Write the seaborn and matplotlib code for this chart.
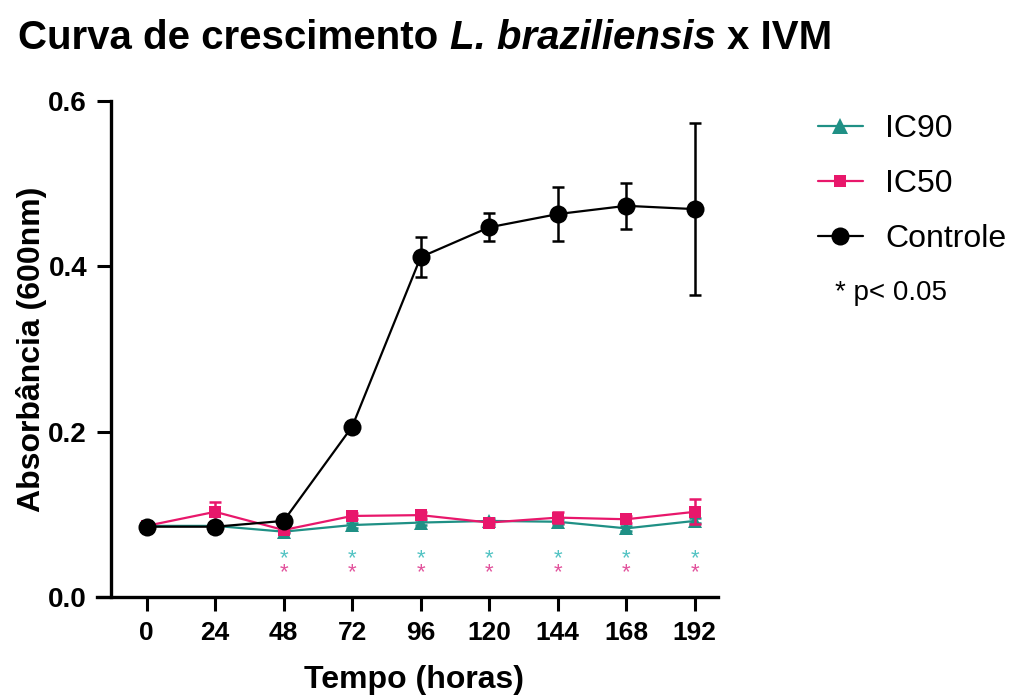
import matplotlib
matplotlib.use("Agg")
import matplotlib.pyplot as plt
import seaborn as sns
import pandas as pd
from matplotlib.lines import Line2D

# ---- data ----
tempo = [0, 24, 48, 72, 96, 120, 144, 168, 192]
controle = [0.085, 0.085, 0.092, 0.206, 0.411, 0.447, 0.463, 0.473, 0.469]
controle_err = [0.003, 0.003, 0.004, 0.004, 0.024, 0.017, 0.033, 0.028, 0.104]
ic50 = [0.086, 0.103, 0.081, 0.098, 0.099, 0.090, 0.096, 0.094, 0.103]
ic50_err = [0.003, 0.012, 0.003, 0.004, 0.004, 0.003, 0.007, 0.004, 0.015]
ic90 = [0.086, 0.086, 0.079, 0.087, 0.090, 0.092, 0.091, 0.083, 0.092]
ic90_err = [0.002, 0.002, 0.002, 0.003, 0.003, 0.003, 0.003, 0.003, 0.003]
sig_tempo = [48, 72, 96, 120, 144, 168, 192]
series_names = ["IC90", "IC50", "Controle"]
y_ticks = [0.0, 0.2, 0.4, 0.6]

sns.set_style("ticks")
plt.rcParams["font.family"] = ["Liberation Sans", "DejaVu Sans"]
plt.rcParams["text.color"] = "black"
plt.rcParams["axes.labelcolor"] = "black"
plt.rcParams["xtick.color"] = "black"
plt.rcParams["ytick.color"] = "black"

c90 = "#1f9085"
c50 = "#e8176b"
cctl = "#000000"
ast90 = "#52c3c3"
ast50 = "#e2529c"

df = pd.DataFrame({
    "tempo": tempo * 3,
    "abs": ic90 + ic50 + controle,
    "err": ic90_err + ic50_err + controle_err,
    "grupo": [series_names[0]] * 9 + [series_names[1]] * 9 + [series_names[2]] * 9,
})

fig = plt.figure(figsize=(10.15, 6.95), dpi=100)
ax = fig.add_axes([0.109, 0.141, 0.598, 0.714])

styles = {
    "IC90": dict(color=c90, marker="^", ms=10, z=3),
    "IC50": dict(color=c50, marker="s", ms=8, z=4),
    "Controle": dict(color=cctl, marker="o", ms=13, z=5),
}
for name in series_names:
    sub = df[df["grupo"] == name]
    st = styles[name]
    ax.errorbar(sub["tempo"], sub["abs"], yerr=sub["err"], fmt="none",
                ecolor=st["color"], elinewidth=1.8, capsize=4.5, capthick=1.8,
                zorder=st["z"])
    sns.lineplot(data=sub, x="tempo", y="abs", ax=ax, color=st["color"],
                 marker=st["marker"], markersize=st["ms"], markeredgewidth=0,
                 linewidth=1.6, zorder=st["z"], legend=False)

for t in sig_tempo:
    ax.text(t, 0.046, "*", color=ast90, ha="center", va="center",
            fontsize=16, zorder=6)
    ax.text(t, 0.030, "*", color=ast50, ha="center", va="center",
            fontsize=16, zorder=6)

ax.set_xlim(-12.6, 200)
ax.set_ylim(0, 0.6)
ax.set_xticks(tempo)
ax.set_xticklabels([str(t) for t in tempo], fontsize=19, fontweight="bold")
ax.set_yticks(y_ticks)
ax.set_yticklabels([f"{v:.1f}" for v in y_ticks], fontsize=20, fontweight="bold")
ax.tick_params(axis="both", length=10, width=2.2, color="black", pad=7)
for s in ["top", "right"]:
    ax.spines[s].set_visible(False)
for s in ["left", "bottom"]:
    ax.spines[s].set_linewidth(2.4)
    ax.spines[s].set_color("black")
ax.spines["bottom"].set_bounds(-17.5, 200)

ax.set_xlabel("Tempo (horas)", fontsize=23, fontweight="bold", labelpad=15)
ax.set_ylabel("Absorbância (600nm)", fontsize=23, fontweight="bold", labelpad=1)

handles = [
    Line2D([], [], color=c90, marker="^", ms=11, mew=0, lw=1.6),
    Line2D([], [], color=c50, marker="s", ms=8, mew=0, lw=1.6),
    Line2D([], [], color=cctl, marker="o", ms=13, mew=0, lw=1.6),
]
fig.legend(handles, series_names, loc="upper left",
           bbox_to_anchor=(0.806, 0.836), frameon=False, fontsize=23,
           handlelength=1.4, handletextpad=0.7, labelspacing=0.78,
           borderpad=0, borderaxespad=0)
fig.text(0.823, 0.578, "* p< 0.05", fontsize=20, va="center", ha="left")

# title with mixed italic
fig.canvas.draw()
r = fig.canvas.get_renderer()
tsize = 29
x0, ytit = 0.018, 0.93
parts = [("Curva de crescimento", "normal"), ("L. braziliensis", "italic"), ("x IVM", "normal")]
sp = fig.text(0, 0, "a a", fontsize=tsize, fontweight="bold")
sp2 = fig.text(0, 0, "aa", fontsize=tsize, fontweight="bold")
spw = (sp.get_window_extent(r).width - sp2.get_window_extent(r).width) / fig.bbox.width
sp.remove(); sp2.remove()
x = x0
for txt, style in parts:
    t = fig.text(x, ytit, txt, fontsize=tsize, fontweight="bold", fontstyle=style,
                 va="baseline", ha="left")
    w = t.get_window_extent(r).width / fig.bbox.width
    x = x + w + spw

fig.savefig("out.png", dpi=100)
